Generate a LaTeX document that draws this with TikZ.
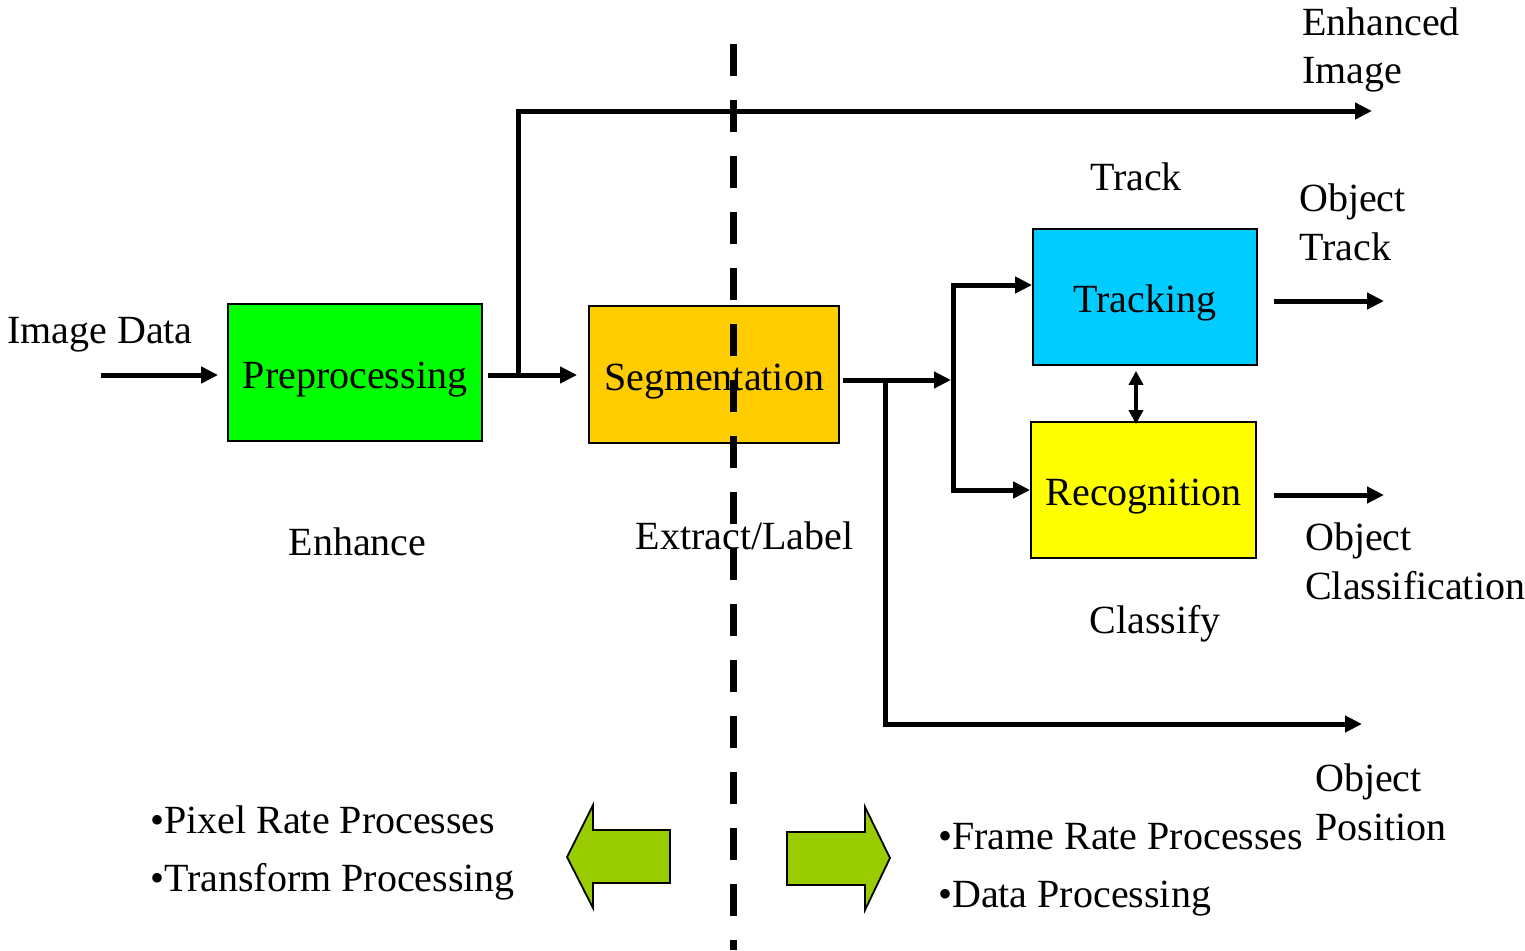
\documentclass[tikz,border=0pt]{standalone}
\usepackage{fontspec}
\setmainfont{Liberation Serif}
\usetikzlibrary{arrows.meta,calc}
\definecolor{prefill}{HTML}{00FF00}
\definecolor{segfill}{HTML}{FFCC00}
\definecolor{trkfill}{HTML}{00CCFF}
\definecolor{recfill}{HTML}{FFFF00}
\definecolor{sidefill}{HTML}{99CC00}
\begin{document}
\begin{tikzpicture}[x=1pt,y=-1pt,
  txt/.style={font=\fontsize{40}{48.5}\selectfont,inner sep=0pt},
  block/.style={txt,draw=black,line width=1.8pt,text height=31pt,text depth=0pt},
  flow/.style={line width=5pt,-{Triangle[length=17pt,width=16pt]}},
  both/.style={line width=3.5pt,{Triangle[length=14pt,width=14pt]}-{Triangle[length=14pt,width=14pt]}},
  side/.style={fill=sidefill,draw=black,line width=1.8pt,line join=miter},
  divider/.style={line width=7pt,dash pattern=on 32pt off 24pt}]
\useasboundingbox (0,0) rectangle (1525,950);

% processing blocks
\node[block,fill=prefill,minimum width=254pt,minimum height=137pt] (pre) at (355,372.5) {Preprocessing};
\node[block,fill=segfill,minimum width=250pt,minimum height=137pt] (seg) at (714,374.5) {Segmentation};
\node[block,fill=trkfill,minimum width=224pt,minimum height=136pt] (trk) at (1145,297) {Tracking};
\node[block,fill=recfill,minimum width=225pt,minimum height=136pt] (rec) at (1143.5,490) {Recognition};

% free ends and junctions
\coordinate (src) at (101,375);
\coordinate (j1) at (518,375);
\coordinate (enhout) at (1372,111);
\coordinate (j2) at (885,380);
\coordinate (split) at (953,380);
\coordinate (posout) at (1362,724);
\coordinate (trkout) at (1384,301);
\coordinate (recout) at (1384,495);

% connectors
\draw[flow] (src) -- ($(pre.west |- src)+(-9,0)$);
\draw[flow] ($(pre.east |- j1)+(5,0)$) -- ($(seg.west |- j1)+(-11,0)$);
\draw[flow] (j1) |- (enhout);
\draw[flow] ($(seg.east |- split)+(3,0)$) -- ($(split)+(-2,0)$);
\draw[flow] (split) |- ($(trk.west)+(0,-12)$);
\draw[flow] (split) |- (rec.west);
\draw[flow] (j2) |- (posout);
\draw[flow] ($(trk.east |- trkout)+(16,0)$) -- (trkout);
\draw[flow] ($(rec.east |- recout)+(17,0)$) -- (recout);
\draw[both] ($(trk.south)+(-9,5)$) -- ($(rec.north)+(-7.5,3)$);

% labels (multi-line labels sit on the baseline of their last line)
\node[txt,anchor=base west] (lin) at (7,343) {Image Data};
\node[txt,anchor=base west,align=left] (lenh) at (1302,84) {Enhanced\\Image};
\node[txt,anchor=base] (ltrack) at (1136,190) {Track};
\node[txt,anchor=base west,align=left] (lobjt) at (1299,260) {Object\\Track};
\node[txt,anchor=base] (lenhance) at (357.5,555) {Enhance};
\node[txt,anchor=base] (lextract) at (744.5,549) {Extract/Label};
\node[txt,anchor=base west,align=left] (lobjc) at (1305,599) {Object\\Classification};
\node[txt,anchor=base] (lclass) at (1155,633) {Classify};
\node[txt,anchor=base west,align=left] (lobjp) at (1315,840) {Object\\Position};
\node[txt,anchor=base west] (lpix) at (150,833) {•Pixel Rate Processes};
\node[txt,anchor=base west] (ltra) at (150,891) {•Transform Processing};
\node[txt,anchor=base west] (lfra) at (938,849) {•Frame Rate Processes};
\node[txt,anchor=base west] (ldat) at (938,907) {•Data Processing};

% block arrows pointing to each side
\draw[side] (567,857) -- (593,805) -- (593,830) -- (670,830) -- (670,883) -- (593,883) -- (593,908) -- cycle;
\draw[side] (890,858) -- (865,807) -- (865,832) -- (787,832) -- (787,885) -- (865,885) -- (865,910) -- cycle;

% dividing line between pixel-rate and frame-rate stages
\draw[divider] (733,44) -- (733,950);
\end{tikzpicture}
\end{document}
